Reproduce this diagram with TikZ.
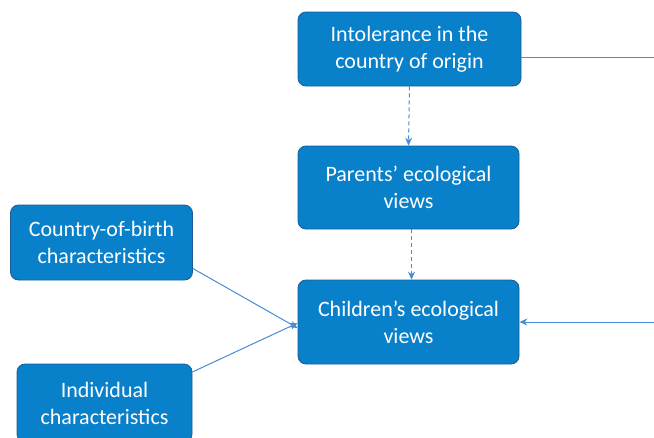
\documentclass[tikz,border=0pt]{standalone}
\usepackage{fontspec}
\setmainfont{Carlito}
\usepackage{xcolor}
\usepackage{tikz}
\usetikzlibrary{calc, positioning, arrows.meta}
\definecolor{boxblue}{RGB}{8,128,202}
\definecolor{boxedge}{RGB}{28,92,150}
\definecolor{linkblue}{RGB}{74,140,210}
\tikzset{factor/.style={draw=boxedge, fill=boxblue, text=white, rounded corners=8pt, line width=0.8pt,
  align=center, inner sep=0pt, font=\fontsize{22}{27}\selectfont},
link/.style={draw=linkblue, line width=1pt, -{Stealth[length=8pt,width=7pt]}},
dashlink/.style={link, dashed, dash pattern=on 4pt off 3pt}}

\begin{document}
\begin{tikzpicture}[x=1pt,y=-1pt]
 \useasboundingbox (0,0) rectangle (654,437);

 \node[factor, minimum width=223pt, minimum height=74pt] (intol) at (409.5,49) {Intolerance in the\\country of origin};
 \node[factor, minimum width=221pt, minimum height=83pt] (parents) at (408.5,187.5) {Parents' ecological\\views};
 \node[factor, minimum width=221pt, minimum height=84pt] (children) at (408.5,322) {Children's ecological\\views};

 \node[factor, minimum width=182pt, minimum height=75pt] (cob) at (101.5,242.5) {Country-of-birth\\characteristics};
 \node[factor, minimum width=175pt, minimum height=78pt] (indiv) at (104.5,403) {Individual\\characteristics};

 % links off the right edge
 \coordinate (outtop) at (654,57);
 \coordinate (outbot) at (654,322);
 \draw[draw=linkblue, line width=1pt] ([yshift=-8pt]intol.east) -- (outtop);
 \draw[link] (outbot) -- (children.east);

 \draw[dashlink] (intol.south) -- (parents.north);
 \draw[dashlink] ([xshift=3pt]parents.south) -- ([xshift=3pt]children.north);

 \draw[link] ([yshift=-26pt]cob.east) -- ([yshift=-6pt]children.west);
 \draw[link] ([yshift=31pt]indiv.east) -- ([yshift=-1pt]children.west);

\end{tikzpicture}
\end{document}
